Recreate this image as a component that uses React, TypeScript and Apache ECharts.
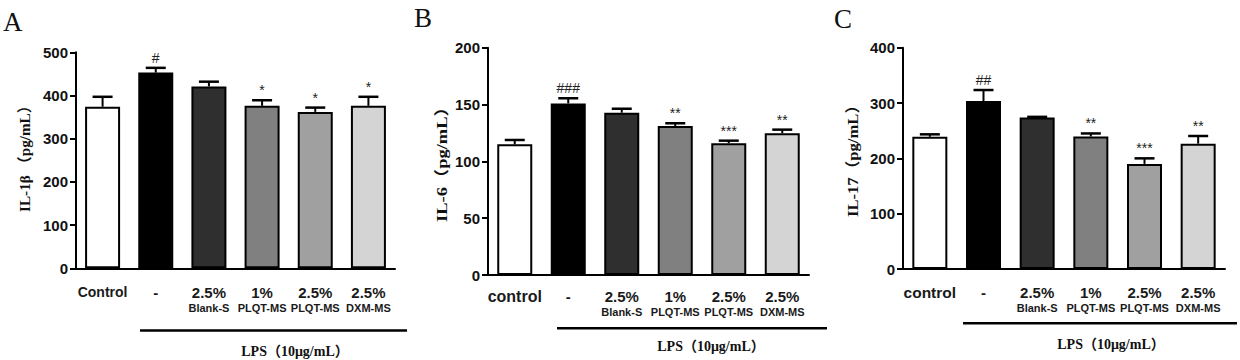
import React, { useEffect, useRef } from "react";
import * as echarts from "echarts";

// ---------- data ----------
const doseLabelsA = ["Control", "-", "2.5%", "1%", "2.5%", "2.5%"];
const doseLabelsBC = ["control", "-", "2.5%", "1%", "2.5%", "2.5%"];
const agentLabels = ["", "", "Blank-S", "PLQT-MS", "PLQT-MS", "DXM-MS"];
const categories = ["Control", "LPS", "2.5% Blank-S", "1% PLQT-MS", "2.5% PLQT-MS", "2.5% DXM-MS"];

const il1bMean = [374, 453, 421, 376, 362, 376];
const il1bUpper = [397, 464, 432, 389, 372, 397];
const il1bMarks = ["", "#", "", "*", "*", "*"];

const il6Mean = [115, 151, 142.8, 131, 116, 124.7];
const il6Upper = [118.8, 155.5, 146.3, 133.5, 118.2, 127.9];
const il6Marks = ["", "###", "", "**", "***", "**"];

const il17Mean = [239, 303.5, 274, 239.5, 190, 226.5];
const il17Upper = [243.4, 323.5, 275, 245, 200, 240.4];
const il17Marks = ["", "##", "", "**", "***", "**"];

const barColors = ["#ffffff", "#000000", "#2f2f2f", "#808080", "#a0a0a0", "#d4d4d4"];

const yTitles = ["IL-1β （pg/mL）", "IL-6（pg/mL）", "IL-17（pg/mL）"];
const yMax = [500, 200, 400];
const yInterval = [100, 50, 100];
const panelLetters = ["A", "B", "C"];
const lpsLabel = "LPS（10μg/mL）";

const SANS = "Liberation Sans, Arial, sans-serif";
const SERIF = "Liberation Serif, Times New Roman, Noto Sans CJK SC, serif";

const panels = [
  { left: 76, top: 52.3, width: 319, height: 216, labelMargin: 15, ctrlSize: 14,
    titleX: 25, titleY: 155, titleLen: 114,
    lpsY: 330.5, lpsX1: 140, lpsX2: 407, lpsTextX: 295, lpsTextY: 351.5, letterX: 3, letterY: 22,
    mean: il1bMean, upper: il1bUpper, marks: il1bMarks, doses: doseLabelsA },
  { left: 488, top: 47.7, width: 321, height: 227.3, labelMargin: 12, ctrlSize: 16,
    titleX: 442, titleY: 160, titleLen: 124,
    lpsY: 328.3, lpsX1: 557, lpsX2: 827, lpsTextX: 711, lpsTextY: 346.7, letterX: 414, letterY: 18,
    mean: il6Mean, upper: il6Upper, marks: il6Marks, doses: doseLabelsBC },
  { left: 903, top: 47.7, width: 322, height: 221.3, labelMargin: 14, ctrlSize: 15.5,
    titleX: 852.5, titleY: 157, titleLen: 120,
    lpsY: 323.3, lpsX1: 963, lpsX2: 1237, lpsTextX: 1111, lpsTextY: 344, letterX: 834, letterY: 19,
    mean: il17Mean, upper: il17Upper, marks: il17Marks, doses: doseLabelsBC },
];

const TITLE_SIZE = 15;

function measure(text: string, font: string): number {
  const c = document.createElement("canvas");
  const ctx = c.getContext("2d");
  if (!ctx) return 0;
  ctx.font = font;
  return ctx.measureText(text).width;
}

export default function App() {
  const ref = useRef<HTMLDivElement>(null);
  useEffect(() => {
    if (!ref.current) return;
    const chart = echarts.init(ref.current, undefined, { renderer: "svg" });

    const grid: any[] = [];
    const xAxis: any[] = [];
    const yAxis: any[] = [];
    const series: any[] = [];
    const graphic: any[] = [];

    panels.forEach((p, k) => {
      grid.push({ left: p.left, top: p.top, width: p.width, height: p.height, containLabel: false, outerBoundsMode: "none" });
      xAxis.push({
        type: "category",
        gridIndex: k,
        data: categories,
        boundaryGap: true,
        axisLine: { lineStyle: { color: "#000", width: 2 } },
        axisTick: { alignWithLabel: true, length: 5, lineStyle: { color: "#000", width: 2 } },
        axisLabel: {
          interval: 0,
          margin: p.labelMargin,
          formatter: (_v: string, i: number) =>
            i === 0
              ? `{c|${p.doses[i]}}\n{a| }`
              : `{d|${p.doses[i]}}\n{a|${agentLabels[i] || " "}}`,
          rich: {
            c: { fontFamily: SANS, fontWeight: "bold", fontSize: p.ctrlSize, color: "#1a1a1a", lineHeight: 18 },
            d: { fontFamily: SANS, fontWeight: "bold", fontSize: 15, color: "#1a1a1a", lineHeight: 18 },
            a: { fontFamily: SANS, fontWeight: "bold", fontSize: 11, color: "#1a1a1a", lineHeight: 14 },
          },
        },
      });
      yAxis.push({
        type: "value",
        gridIndex: k,
        min: 0,
        max: yMax[k],
        interval: yInterval[k],
        axisLine: { show: true, lineStyle: { color: "#000", width: 2 } },
        axisTick: { show: true, length: 6, lineStyle: { color: "#000", width: 2 } },
        splitLine: { show: false },
        axisLabel: { fontFamily: SANS, fontWeight: "bold", fontSize: 15, color: "#111", margin: 8 },
      });
      series.push({
        type: "bar",
        xAxisIndex: k,
        yAxisIndex: k,
        barWidth: 35,
        itemStyle: { borderColor: "#000", borderWidth: 2 },
        data: p.mean.map((v, i) => ({ value: v, itemStyle: { color: barColors[i] } })),
        z: 2,
      });
      const marks = p.marks;
      series.push({
        type: "custom",
        xAxisIndex: k,
        yAxisIndex: k,
        z: 5,
        encode: { x: 0, y: [1, 2] },
        data: p.mean.map((v, i) => [i, v, p.upper[i]]),
        renderItem: (params: any, api: any) => {
          const x = api.value(0);
          const p0 = api.coord([x, api.value(1)]);
          const p1 = api.coord([x, api.value(2)]);
          const hw = 10;
          const children: any[] = [
            { type: "line", shape: { x1: p0[0], y1: p0[1], x2: p1[0], y2: p1[1] }, style: { stroke: "#000", lineWidth: 2 } },
            { type: "line", shape: { x1: p1[0] - hw, y1: p1[1], x2: p1[0] + hw, y2: p1[1] }, style: { stroke: "#000", lineWidth: 2.5 } },
          ];
          const t = marks[params.dataIndex];
          if (t) {
            children.push({
              type: "text",
              x: p1[0],
              y: p1[1] - 3,
              style: {
                text: t, fill: "#222", fontFamily: SANS, fontSize: 14, fontWeight: "normal",
                align: "center", verticalAlign: "bottom",
              },
            });
          }
          return { type: "group", children };
        },
      });
      const natural = measure(yTitles[k], `bold ${TITLE_SIZE}px ${SERIF}`) || p.titleLen;
      graphic.push(
        {
          type: "text",
          x: p.titleX,
          y: p.titleY,
          rotation: Math.PI / 2,
          scaleX: p.titleLen / natural,
          style: {
            text: yTitles[k], fill: "#111", fontFamily: SERIF, fontWeight: "bold", fontSize: TITLE_SIZE,
            align: "center", verticalAlign: "middle",
          },
        },
        { type: "line", shape: { x1: p.lpsX1, y1: p.lpsY, x2: p.lpsX2, y2: p.lpsY }, style: { stroke: "#000", lineWidth: 2.5 } },
        {
          type: "text",
          x: p.lpsTextX,
          y: p.lpsTextY,
          style: {
            text: lpsLabel, fill: "#111", fontFamily: SERIF, fontWeight: "bold", fontSize: 14,
            align: "center", verticalAlign: "middle",
          },
        },
        {
          type: "text",
          x: p.letterX,
          y: p.letterY,
          style: {
            text: panelLetters[k], fill: "#111", fontFamily: SERIF, fontSize: 27,
            align: "left", verticalAlign: "middle",
          },
        }
      );
    });

    chart.setOption({
      animation: false,
      backgroundColor: "#ffffff",
      grid,
      xAxis,
      yAxis,
      series,
      graphic,
    });
    return () => chart.dispose();
  }, []);
  return <div ref={ref} style={{ position: "fixed", left: 0, top: 0, width: 1240, height: 360 }} />;
}
